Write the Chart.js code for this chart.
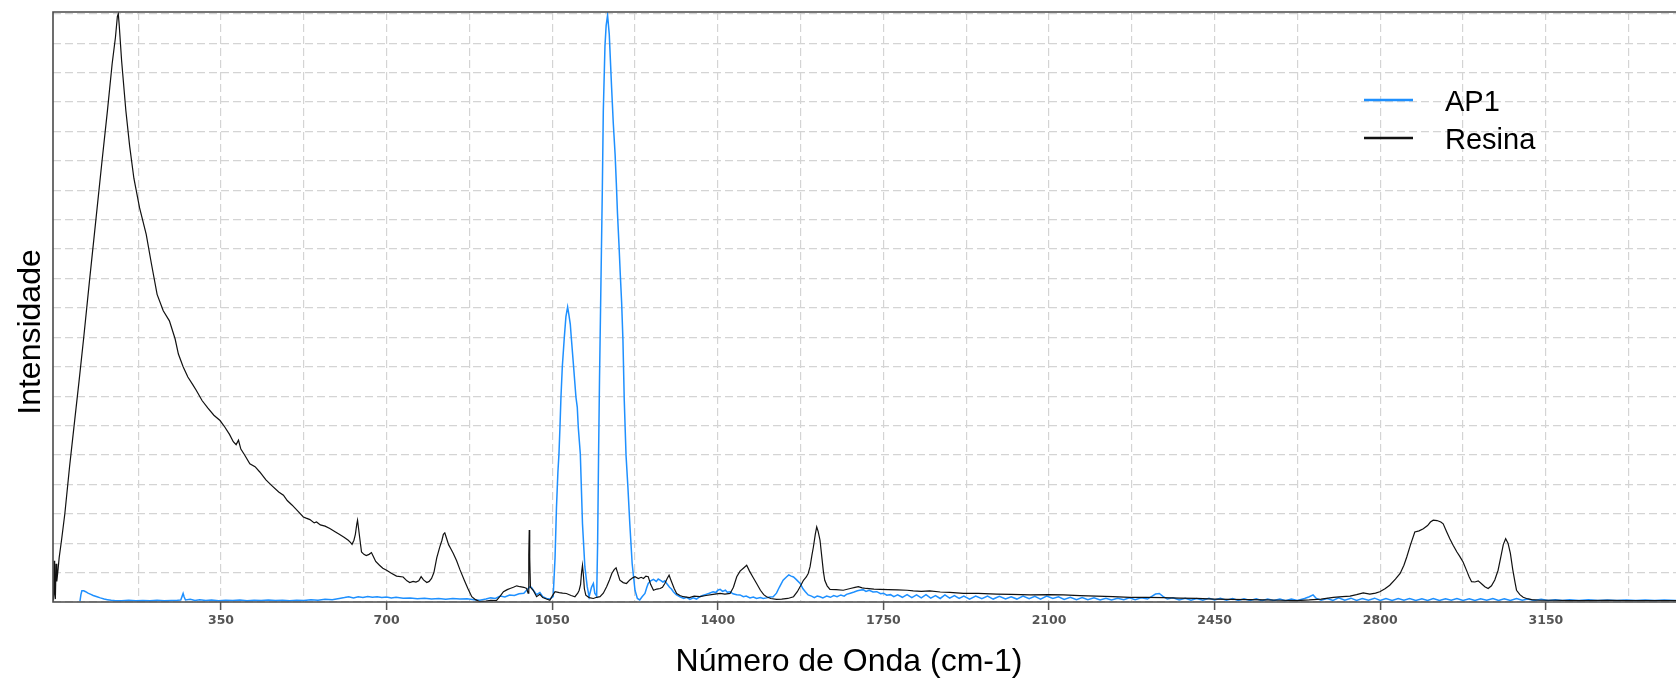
<!DOCTYPE html>
<html>
<head>
<meta charset="utf-8">
<script src="https://cdn.jsdelivr.net/npm/chart.js@4"></script>
<style>
  html, body { margin: 0; padding: 0; background: #fff; }
  #wrap { width: 1676px; height: 678px; }
</style>
</head>
<body>
<div id="wrap"><canvas id="spectra" width="1676" height="678"></canvas></div>
<script>
// wavenumber (cm-1), intensity (arbitrary units, one unit = one grid row)
const resinaPoints = [
  [-4,0.05],[-2.5,1.4],[-1.5,0.3],[0,0.1],[1.5,1.3],[3,0.7],[5,1.0],[8,1.5],[13,2.1],[20,3.0],
  [30,4.6],[41,6.2],[50,7.5],[60,9.0],[72,10.9],[85,12.9],[98,14.9],[110,16.7],[120,18.3],[127,19.2],
  [131,19.9],[133,20.0],[135,19.6],[140,18.4],[149,16.7],[157,15.5],[166,14.4],[178,13.4],[192,12.5],[203,11.5],
  [215,10.46],[228,9.9],[241,9.56],[253,8.95],[260,8.43],[270,8.0],[280,7.65],[290,7.4],[298,7.19],[310,6.85],
  [322,6.6],[335,6.35],[348,6.17],[358,5.95],[368,5.7],[376,5.45],[382,5.35],[387,5.5],[392,5.2],[400,5.0],
  [411,4.7],[422,4.6],[432,4.42],[445,4.15],[458,3.95],[472,3.74],[482,3.63],[490,3.45],[500,3.3],[512,3.1],
  [524,2.89],[530,2.85],[538,2.8],[547,2.69],[552,2.72],[560,2.62],[570,2.58],[580,2.5],[592,2.38],[600,2.3],
  [610,2.2],[619,2.1],[624,2.02],[627,1.96],[631,2.1],[634,2.3],[637,2.65],[638.6,2.78],[640,2.6],[643,2.21],
  [647,1.7],[652,1.62],[657,1.58],[663,1.62],[668,1.68],[672,1.55],[677,1.38],[685,1.25],[692,1.15],[700,1.08],
  [710,0.98],[721,0.88],[735,0.85],[743,0.72],[749,0.66],[756,0.7],[762,0.68],[768,0.72],[773,0.86],[778,0.75],
  [785,0.66],[790,0.7],[795,0.8],[800,1.0],[806,1.5],[812,1.85],[817,2.1],[820,2.3],[823,2.35],[826,2.2],
  [831,1.95],[836,1.8],[841,1.65],[848,1.4],[855,1.1],[864,0.75],[872,0.45],[880,0.18],[888,0.08],[897,0.01],
  [910,0.03],[920,0.06],[932,0.05],[940,0.2],[947,0.35],[955,0.42],[961,0.46],[968,0.5],[975,0.55],[982,0.52],
  [990,0.5],[996,0.46],[999,0.3],[1000.5,1.6],[1001.5,2.45],[1002.5,1.5],[1004,0.5],[1010,0.4],[1017,0.18],[1024,0.26],
  [1030,0.15],[1038,0.1],[1045,0.06],[1050,0.2],[1056,0.35],[1065,0.32],[1072,0.3],[1080,0.29],[1090,0.22],[1098,0.18],
  [1104,0.3],[1107,0.4],[1110,0.6],[1112,1.0],[1114,1.25],[1116,0.9],[1118,0.45],[1121,0.23],[1128,0.15],[1137,0.12],
  [1144,0.16],[1151,0.18],[1158,0.3],[1165,0.52],[1171,0.75],[1176,0.97],[1181,1.1],[1185,1.16],[1189,0.95],[1193,0.74],
  [1200,0.66],[1207,0.63],[1214,0.75],[1220,0.82],[1225,0.86],[1232,0.8],[1238,0.84],[1243,0.8],[1248,0.88],[1253,0.86],
  [1258,0.6],[1264,0.4],[1271,0.44],[1278,0.46],[1283,0.5],[1288,0.63],[1293,0.8],[1297,0.91],[1302,0.7],[1308,0.45],
  [1313,0.29],[1320,0.22],[1327,0.18],[1340,0.15],[1350,0.2],[1362,0.18],[1375,0.22],[1390,0.26],[1405,0.29],[1415,0.27],
  [1426,0.29],[1433,0.5],[1440,0.86],[1447,1.05],[1454,1.15],[1461,1.25],[1467,1.05],[1474,0.85],[1482,0.63],[1490,0.4],
  [1497,0.25],[1503,0.18],[1512,0.12],[1524,0.09],[1535,0.1],[1548,0.12],[1560,0.18],[1568,0.35],[1575,0.55],[1581,0.74],
  [1587,0.85],[1591,0.97],[1595,1.2],[1599,1.6],[1602,1.87],[1606,2.3],[1609,2.55],[1612,2.4],[1616,2.1],[1620,1.5],
  [1623,1.05],[1626,0.74],[1631,0.55],[1637,0.43],[1650,0.42],[1665,0.4],[1680,0.46],[1690,0.5],[1697,0.52],[1705,0.48],
  [1714,0.46],[1730,0.44],[1743,0.43],[1760,0.42],[1780,0.41],[1800,0.4],[1813,0.38],[1830,0.36],[1848,0.38],[1870,0.34],
  [1890,0.33],[1919,0.29],[1950,0.29],[1989,0.27],[2020,0.26],[2060,0.24],[2100,0.25],[2130,0.24],[2165,0.22],[2200,0.2],
  [2235,0.18],[2271,0.16],[2305,0.16],[2341,0.15],[2375,0.13],[2412,0.12],[2450,0.1],[2482,0.09],[2520,0.08],[2553,0.07],
  [2590,0.06],[2623,0.05],[2650,0.07],[2675,0.1],[2701,0.16],[2720,0.18],[2736,0.2],[2750,0.25],[2764,0.31],[2778,0.27],
  [2790,0.3],[2799,0.35],[2810,0.45],[2820,0.57],[2832,0.78],[2842,0.97],[2850,1.25],[2856,1.53],[2864,1.95],[2873,2.38],
  [2882,2.42],[2891,2.49],[2900,2.6],[2906,2.72],[2912,2.78],[2920,2.77],[2928,2.72],[2933,2.66],[2940,2.4],[2947,2.15],
  [2954,1.93],[2962,1.7],[2968,1.55],[2975,1.36],[2983,1.05],[2988,0.85],[2993,0.69],[3000,0.68],[3007,0.72],[3014,0.62],
  [3021,0.52],[3028,0.46],[3035,0.55],[3042,0.75],[3049,1.08],[3055,1.55],[3060,1.95],[3065,2.15],[3070,2.0],[3075,1.65],
  [3080,1.1],[3085,0.65],[3088,0.4],[3095,0.25],[3102,0.16],[3109,0.12],[3120,0.08],[3137,0.06],[3170,0.06],[3200,0.05],
  [3240,0.05],[3280,0.06],[3320,0.05],[3360,0.05],[3400,0.05],[3425,0.05]
];

const ap1Points = [
  [52,0.03],[54,0.25],[56,0.38],[60,0.38],[64,0.35],[69,0.3],[75,0.26],[80,0.22],[88,0.18],[95,0.14],
  [103,0.1],[110,0.08],[118,0.06],[125,0.05],[140,0.04],[155,0.06],[170,0.04],[185,0.05],[200,0.04],[215,0.06],
  [230,0.04],[245,0.05],[258,0.06],[265,0.07],[268,0.2],[270,0.29],[272,0.18],[275,0.07],[285,0.09],[295,0.05],
  [305,0.08],[318,0.05],[330,0.07],[345,0.04],[360,0.06],[375,0.05],[390,0.07],[405,0.04],[420,0.06],[435,0.05],
  [450,0.07],[465,0.05],[480,0.06],[495,0.04],[510,0.06],[525,0.05],[540,0.08],[555,0.06],[570,0.09],[585,0.08],
  [600,0.12],[611,0.15],[620,0.18],[630,0.14],[640,0.18],[650,0.15],[660,0.19],[670,0.16],[680,0.18],[690,0.15],
  [700,0.17],[710,0.14],[720,0.16],[735,0.13],[750,0.14],[765,0.11],[780,0.13],[795,0.1],[810,0.12],[825,0.09],
  [840,0.12],[855,0.1],[870,0.11],[885,0.08],[897,0.06],[910,0.1],[920,0.14],[930,0.12],[940,0.2],[950,0.17],
  [960,0.24],[970,0.22],[980,0.28],[990,0.3],[997,0.42],[1003,0.52],[1006,0.5],[1010,0.4],[1017,0.25],[1024,0.32],
  [1030,0.18],[1038,0.12],[1045,0.1],[1052,0.18],[1056,1.5],[1059,3.2],[1062,4.4],[1064.3,5.04],[1066.4,5.94],[1068.5,6.96],
  [1071.3,7.98],[1075.6,9.0],[1079,9.7],[1082.6,10.03],[1085,9.8],[1088.2,9.45],[1090.3,9.0],[1095.3,7.98],[1100.2,6.96],[1103,6.62],
  [1105.1,5.94],[1109.4,5.04],[1114,2.66],[1119,1.2],[1124,0.52],[1128,0.18],[1133,0.5],[1137,0.63],[1140,0.3],[1144,0.2],
  [1146,2.0],[1148,5.0],[1150,7.6],[1152.5,10.3],[1156,14.1],[1158,16.7],[1161.5,18.9],[1164,19.6],[1167,19.95],[1170.6,19.3],
  [1175.5,17.5],[1179,16.3],[1183,15.2],[1185.5,14.25],[1188,13.2],[1191,12.2],[1194,11.1],[1196.7,10.2],[1199.5,8.9],[1202.3,6.85],
  [1206,5.0],[1210,3.9],[1214,2.66],[1219,1.3],[1225,0.4],[1230,0.12],[1235,0.07],[1240,0.18],[1246,0.29],[1250,0.5],
  [1253,0.63],[1258,0.72],[1264,0.77],[1270,0.7],[1274,0.78],[1278,0.74],[1284,0.68],[1288,0.72],[1292,0.63],[1298,0.5],
  [1302,0.44],[1306,0.35],[1312,0.25],[1320,0.18],[1328,0.12],[1334,0.16],[1341,0.09],[1348,0.14],[1355,0.1],[1362,0.18],
  [1368,0.22],[1375,0.26],[1382,0.3],[1390,0.35],[1396,0.32],[1400,0.4],[1405,0.43],[1410,0.36],[1416,0.4],[1420,0.33],
  [1426,0.35],[1432,0.28],[1440,0.25],[1447,0.24],[1454,0.18],[1460,0.2],[1468,0.14],[1475,0.17],[1482,0.12],[1490,0.15],
  [1496,0.12],[1503,0.14],[1510,0.17],[1517,0.18],[1524,0.3],[1530,0.5],[1538,0.74],[1545,0.85],[1550,0.92],[1555,0.88],
  [1560,0.85],[1566,0.76],[1574,0.63],[1580,0.45],[1585,0.35],[1591,0.24],[1598,0.2],[1604,0.15],[1610,0.2],[1616,0.18],
  [1622,0.14],[1630,0.2],[1638,0.16],[1645,0.22],[1652,0.18],[1660,0.24],[1667,0.2],[1672,0.26],[1680,0.3],[1688,0.34],
  [1695,0.38],[1700,0.4],[1707,0.42],[1713,0.36],[1720,0.4],[1728,0.34],[1736,0.35],[1744,0.28],[1750,0.3],[1757,0.23],
  [1765,0.25],[1772,0.18],[1780,0.24],[1790,0.16],[1800,0.25],[1810,0.15],[1820,0.24],[1830,0.14],[1840,0.25],[1850,0.13],
  [1860,0.22],[1870,0.12],[1880,0.24],[1890,0.13],[1900,0.22],[1910,0.12],[1920,0.2],[1932,0.1],[1945,0.2],[1958,0.11],
  [1970,0.2],[1982,0.1],[1995,0.19],[2008,0.1],[2020,0.18],[2032,0.1],[2045,0.2],[2058,0.11],[2070,0.19],[2082,0.1],
  [2095,0.2],[2108,0.12],[2120,0.18],[2132,0.09],[2145,0.16],[2158,0.08],[2170,0.15],[2182,0.08],[2195,0.14],[2208,0.07],
  [2220,0.13],[2232,0.07],[2245,0.13],[2258,0.08],[2270,0.14],[2282,0.08],[2295,0.14],[2308,0.1],[2318,0.2],[2325,0.27],
  [2333,0.29],[2340,0.2],[2350,0.1],[2362,0.14],[2375,0.07],[2388,0.13],[2400,0.06],[2412,0.12],[2425,0.06],[2438,0.13],
  [2450,0.07],[2462,0.13],[2475,0.06],[2488,0.12],[2500,0.05],[2512,0.11],[2525,0.05],[2538,0.11],[2550,0.04],[2562,0.1],
  [2575,0.05],[2588,0.1],[2600,0.04],[2612,0.1],[2625,0.05],[2640,0.12],[2650,0.18],[2658,0.24],[2665,0.12],[2675,0.06],
  [2688,0.12],[2700,0.05],[2712,0.14],[2725,0.06],[2738,0.13],[2750,0.05],[2762,0.12],[2775,0.06],[2788,0.13],[2800,0.05],
  [2812,0.12],[2825,0.05],[2838,0.12],[2850,0.06],[2862,0.12],[2875,0.05],[2888,0.11],[2900,0.05],[2912,0.12],[2925,0.05],
  [2938,0.11],[2950,0.06],[2962,0.12],[2975,0.05],[2988,0.11],[3000,0.05],[3012,0.11],[3025,0.06],[3038,0.12],[3050,0.05],
  [3062,0.11],[3075,0.05],[3088,0.12],[3100,0.06],[3112,0.1],[3125,0.05],[3140,0.09],[3155,0.05],[3170,0.08],[3185,0.05],
  [3200,0.08],[3220,0.05],[3240,0.08],[3260,0.05],[3280,0.07],[3300,0.05],[3320,0.07],[3340,0.05],[3360,0.07],[3380,0.05],
  [3400,0.07],[3425,0.05]
];

const seriesNames = ["AP1", "Resina"];
const seriesColors = ["#1E90FF", "#111111"];
const xTickLabels = [350, 700, 1050, 1400, 1750, 2100, 2450, 2800, 3150];
const xGridValues = [175, 350, 525, 700, 875, 1050, 1225, 1400, 1575, 1750, 1925, 2100, 2275, 2450, 2625, 2800, 2975, 3150, 3325];
const yGridValues = [0, 1, 2, 3, 4, 5, 6, 7, 8, 9, 10, 11, 12, 13, 14, 15, 16, 17, 18, 19, 20];

const toXY = (pts) => pts.map(([x, y]) => ({ x, y }));

// frame, legend and axis titles drawn straight on the canvas
const decorations = {
  id: "decorations",
  afterDatasetsDraw(chart) {
    const { ctx, chartArea: a } = chart;
    ctx.save();
    ctx.strokeStyle = "#4a4a4a";
    ctx.lineWidth = 1.6;
    ctx.beginPath();
    ctx.moveTo(a.right + 2, a.top);
    ctx.lineTo(a.left, a.top);
    ctx.lineTo(a.left, a.bottom);
    ctx.lineTo(a.right + 2, a.bottom);
    ctx.stroke();
    ctx.restore();
  },
  afterDraw(chart) {
    const { ctx } = chart;
    ctx.save();
    ctx.fillStyle = "#000";
    ctx.font = "32px 'Liberation Sans', Arial, sans-serif";
    ctx.textAlign = "center";
    ctx.textBaseline = "alphabetic";
    ctx.fillText("Número de Onda (cm-1)", 849, 671);
    ctx.save();
    ctx.translate(40, 332);
    ctx.rotate(-Math.PI / 2);
    ctx.fillText("Intensidade", 0, 0);
    ctx.restore();

    ctx.font = "29px 'Liberation Sans', Arial, sans-serif";
    ctx.textAlign = "left";
    const rows = [100, 138];
    seriesNames.forEach((name, i) => {
      ctx.strokeStyle = seriesColors[i];
      ctx.lineWidth = 2.5;
      ctx.beginPath();
      ctx.moveTo(1364, rows[i]);
      ctx.lineTo(1413, rows[i]);
      ctx.stroke();
      ctx.fillText(name, 1445, rows[i] + 11);
    });
    ctx.restore();
  },
};

const ctx = document.getElementById("spectra").getContext("2d");

new Chart(ctx, {
  type: "line",
  data: {
    datasets: [
      {
        label: seriesNames[0],
        data: toXY(ap1Points),
        borderColor: seriesColors[0],
        borderWidth: 1.5,
        pointRadius: 0,
        tension: 0,
        order: 1,
      },
      {
        label: seriesNames[1],
        data: toXY(resinaPoints),
        borderColor: seriesColors[1],
        borderWidth: 1.2,
        pointRadius: 0,
        tension: 0,
        order: 0,
      },
    ],
  },
  options: {
    responsive: false,
    animation: false,
    layout: { padding: { top: 12, left: 0, right: 0, bottom: 0 } },
    plugins: {
      legend: { display: false },
      tooltip: { enabled: false },
    },
    scales: {
      x: {
        type: "linear",
        min: -5,
        max: 3425,
        afterBuildTicks: (scale) => {
          scale.ticks = xGridValues.map((v) => ({ value: v }));
        },
        afterFit: (scale) => {
          scale.height = 76;
          scale.paddingLeft = 0;
          scale.paddingRight = 0;
        },
        border: { display: false, dash: [8, 4] },
        grid: {
          color: "#d4d4d4",
          lineWidth: 1.2,
          tickLength: 8,
          tickWidth: 1.5,
          tickBorderDash: [],
          tickColor: (c) =>
            c.tick && xTickLabels.includes(c.tick.value) ? "#555" : "rgba(0,0,0,0)",
        },
        ticks: {
          autoSkip: false,
          maxRotation: 0,
          padding: 3,
          color: "#555",
          font: { family: "DejaVu Sans", weight: "bold", size: 12.5 },
          callback: (v) => (xTickLabels.includes(v) ? String(v) : ""),
        },
      },
      y: {
        min: 0,
        max: 20.06,
        afterBuildTicks: (scale) => {
          scale.ticks = yGridValues.map((v) => ({ value: v }));
        },
        afterFit: (scale) => {
          scale.width = 53;
        },
        border: { display: false, dash: [8, 4] },
        grid: { color: "#d4d4d4", lineWidth: 1.2, drawTicks: false },
        ticks: { display: false },
      },
    },
  },
  plugins: [decorations],
});
</script>
</body>
</html>
